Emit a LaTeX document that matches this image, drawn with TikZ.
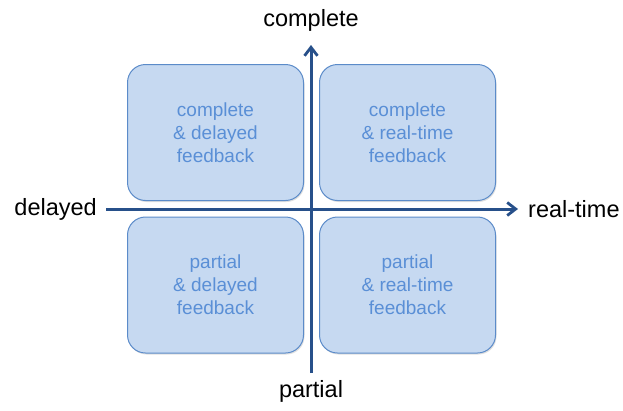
\documentclass[tikz,border=0pt]{standalone}
\usepackage{fontspec}
\setmainfont{Liberation Sans}
\usetikzlibrary{arrows.meta,shadows}
\definecolor{boxfill}{HTML}{C6D9F1}
\definecolor{boxline}{HTML}{5B8BC9}
\definecolor{boxtext}{HTML}{5A8FD6}
\definecolor{axis}{HTML}{27508A}
\tikzset{
  quad/.style={draw=boxline, line width=1pt, fill=boxfill, rounded corners=18pt,
    minimum width=176pt, minimum height=136pt, align=center, text=boxtext,
    font=\fontsize{19}{23}\selectfont, inner sep=0pt,
    drop shadow={shadow xshift=1pt, shadow yshift=-1.5pt, opacity=0.25}},
  axisline/.style={draw=axis, line width=3pt, -{Straight Barb[length=8.5pt,width=13pt,line width=2.8pt]}},
  axislabel/.style={font=\fontsize{23.5}{28}\selectfont, text=black, inner sep=0pt}
}
\begin{document}
\begin{tikzpicture}[x=1pt,y=-1pt]
  \useasboundingbox (0,0) rectangle (623,410);
  % four quadrants
  \node[quad] (cd) at (215.5,132.5) {complete\\\& delayed\\feedback};
  \node[quad] (cr) at (407.5,132.5) {complete\\\& real-time\\feedback};
  \node[quad] (pd) at (215.5,285) {partial\\\& delayed\\feedback};
  \node[quad] (pr) at (407.5,285) {partial\\\& real-time\\feedback};
  % axis labels
  \node[axislabel, anchor=east] (dl) at (97,209) {delayed};
  \node[axislabel, anchor=west] (rt) at (528,209) {real-time};
  \node[axislabel] (cp) at (311,20) {complete};
  \node[axislabel] (pa) at (311,391) {partial};
  % axes
  \coordinate (hs) at (106,209);
  \coordinate (he) at (518,209);
  \coordinate (vs) at (311,373);
  \coordinate (ve) at (311,45);
  \draw[axisline] (hs) -- (he);
  \draw[axisline] (vs) -- (ve);
\end{tikzpicture}
\end{document}
